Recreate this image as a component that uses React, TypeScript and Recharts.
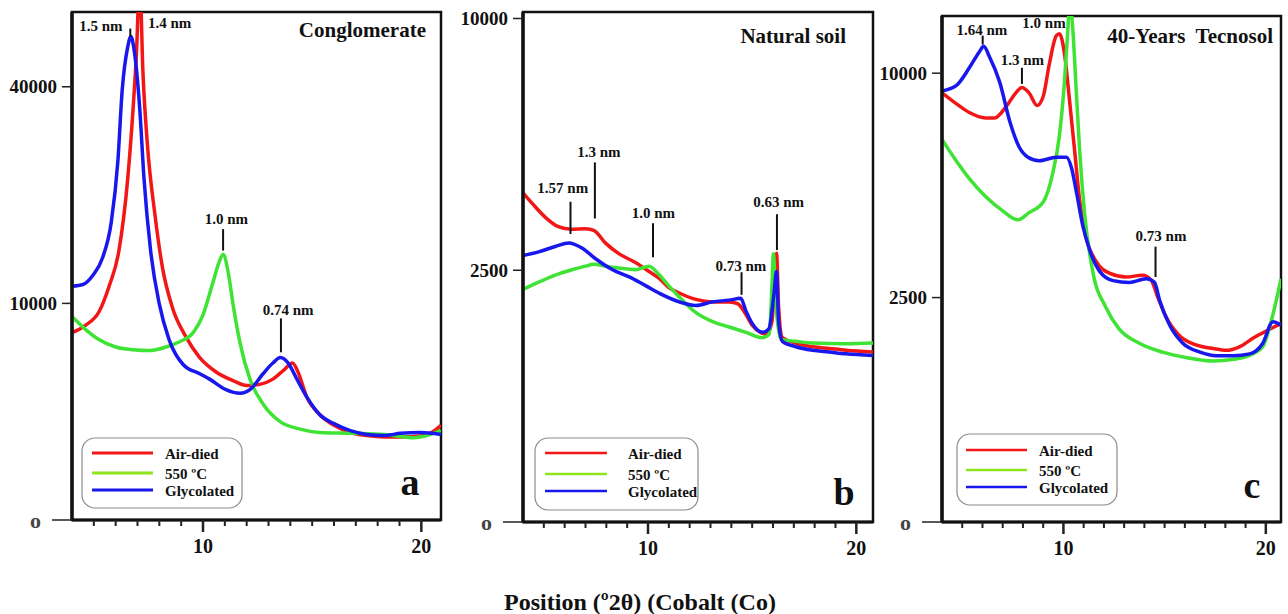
import React from 'react';
import { ComposedChart, Line, XAxis, YAxis, ReferenceLine, ReferenceDot, ReferenceArea } from 'recharts';

const SERIF = '"Liberation Serif", "Times New Roman", serif';
const RED = '#f21616';
const GREEN = '#3ee334';
const BLUE = '#1717ee';
const LEGEND_GREEN = '#8ee51e';

// ---------- data ----------
const seriesNames = ['Air-died', '550 ºC', 'Glycolated'];
const xTicks = [5, 6, 7, 8, 9, 10, 11, 12, 13, 14, 15, 16, 17, 18, 19, 20];
const xTickLabels = [10, 20];

// Panel a: Conglomerate
const aAirX = [4.0, 4.6, 5.25, 5.7, 6.15, 6.55, 6.8, 6.95, 7.1, 7.25, 7.45, 7.8, 8.15, 8.6, 9.2, 9.85, 10.6, 11.4, 12.0, 12.6, 13.2, 13.7, 14.1, 14.35, 14.75, 15.35, 16.0, 16.75, 17.5, 18.3, 19.05, 19.95, 20.6, 20.9];
const aAirY = [7480, 8060, 9290, 11650, 15470, 24750, 36200, 46200, 62000, 42600, 30200, 19840, 13490, 9610, 7200, 5620, 4670, 4130, 3860, 3920, 4230, 4790, 5250, 4670, 3230, 2360, 1910, 1630, 1520, 1470, 1470, 1500, 1700, 1910];
const aHeatX = [4.0, 4.6, 5.25, 6.0, 6.8, 7.55, 8.3, 8.95, 9.55, 10.0, 10.45, 10.75, 10.92, 11.15, 11.4, 11.7, 12.15, 12.75, 13.55, 14.45, 15.35, 16.75, 18.3, 19.65, 20.9];
const aHeatY = [8820, 7770, 6920, 6380, 6180, 6120, 6380, 6790, 7480, 8970, 12000, 14260, 15060, 13110, 9610, 6650, 4230, 2870, 2050, 1760, 1630, 1600, 1560, 1440, 1700];
const aGlyX = [4.0, 4.5, 4.95, 5.4, 5.8, 6.1, 6.3, 6.55, 6.7, 6.85, 7.1, 7.3, 7.6, 8.0, 8.45, 9.1, 9.85, 10.3, 11.05, 11.7, 12.15, 12.75, 13.2, 13.55, 13.9, 14.3, 14.75, 15.35, 16.0, 16.75, 17.5, 18.3, 19.05, 19.95, 20.9];
const aGlyY = [11650, 11820, 12740, 14660, 18930, 27410, 39410, 47650, 49830, 46940, 36200, 24750, 15470, 9930, 6920, 5140, 4560, 4230, 3620, 3420, 3620, 4560, 5250, 5620, 5250, 4230, 3230, 2360, 1980, 1700, 1560, 1520, 1600, 1630, 1560];

// Panel b: Natural soil
const bAirX = [4.0, 4.45, 5.1, 5.7, 6.3, 7.0, 7.4, 7.95, 8.6, 9.4, 10.05, 10.55, 11.0, 11.5, 12.3, 13.1, 13.9, 14.3, 14.7, 15.0, 15.4, 15.7, 15.95, 16.07, 16.17, 16.27, 16.45, 17.1, 17.9, 18.7, 19.5, 20.8];
const bAirY = [4275, 4000, 3650, 3440, 3380, 3395, 3356, 3073, 2841, 2655, 2475, 2335, 2167, 2069, 1954, 1911, 1911, 1880, 1699, 1528, 1419, 1392, 1584, 2200, 2850, 1818, 1340, 1263, 1212, 1188, 1164, 1140];
const bHeatX = [4.0, 4.75, 5.55, 6.35, 7.0, 7.4, 7.95, 8.6, 9.4, 10.05, 10.55, 11.0, 11.65, 12.3, 13.1, 13.9, 14.7, 15.5, 15.82, 15.95, 16.02, 16.14, 16.38, 17.1, 17.9, 19.5, 20.8];
const bHeatY = [2134, 2268, 2405, 2511, 2582, 2619, 2582, 2546, 2511, 2582, 2405, 2200, 1942, 1729, 1584, 1500, 1419, 1340, 1392, 2200, 2841, 1880, 1314, 1288, 1263, 1253, 1263];
const bGlyX = [4.0, 4.75, 5.55, 6.2, 6.85, 7.5, 8.3, 9.1, 9.9, 10.7, 11.5, 12.3, 13.1, 13.9, 14.45, 14.7, 15.0, 15.5, 15.8, 16.05, 16.17, 16.27, 16.45, 17.1, 17.9, 18.7, 19.5, 20.8];
const bGlyY = [2803, 2879, 2995, 3073, 2957, 2729, 2511, 2370, 2200, 2036, 1911, 1849, 1911, 1942, 1973, 1758, 1556, 1419, 1472, 2069, 2475, 1584, 1288, 1212, 1164, 1140, 1116, 1092];

// Panel c: 40-Years Tecnosol
const cAirX = [4.0, 4.7, 5.35, 6.15, 6.6, 7.15, 7.65, 7.95, 8.3, 8.7, 9.0, 9.3, 9.65, 9.8, 10.05, 10.3, 10.55, 10.8, 11.1, 11.6, 12.3, 13.1, 13.9, 14.35, 14.65, 15.1, 15.75, 16.55, 17.4, 18.05, 18.7, 19.4, 20.05, 20.75];
const cAirY = [9143, 8690, 8325, 8107, 8107, 8543, 9143, 9375, 9143, 8616, 8990, 10400, 11740, 11830, 10900, 8840, 6868, 5143, 4063, 3383, 3067, 2979, 3023, 2893, 2520, 2063, 1717, 1556, 1493, 1463, 1524, 1684, 1817, 1956];
const cHeatX = [4.0, 4.7, 5.35, 6.15, 7.0, 7.75, 8.3, 9.0, 9.45, 9.8, 10.05, 10.2, 10.33, 10.46, 10.63, 10.8, 11.05, 11.45, 12.1, 12.75, 13.75, 14.9, 16.05, 17.4, 18.4, 19.35, 19.85, 20.35, 20.75];
const cHeatY = [7269, 6478, 5852, 5258, 4806, 4534, 4751, 5085, 5974, 7405, 9606, 11740, 13500, 12090, 9296, 6868, 4696, 3111, 2285, 1851, 1587, 1432, 1343, 1286, 1314, 1403, 1524, 2136, 2936];
const cGlyX = [4.0, 4.7, 5.35, 5.85, 6.06, 6.35, 6.85, 7.35, 7.8, 8.25, 8.8, 9.65, 10.15, 10.4, 10.65, 10.95, 11.3, 11.8, 12.45, 13.25, 14.1, 14.5, 14.75, 15.25, 15.9, 16.75, 17.55, 18.4, 19.2, 19.85, 20.35, 20.75];
const cGlyY = [9220, 9450, 10240, 10980, 11230, 10730, 9606, 7966, 7000, 6606, 6478, 6606, 6606, 6224, 5373, 4374, 3667, 3111, 2893, 2850, 2936, 2850, 2441, 1921, 1587, 1432, 1373, 1373, 1403, 1587, 1991, 1921];

// peak annotations (label text, label anchor, marker segment) in data units
const aNoteText = ['1.5 nm', '1.4 nm', '1.0 nm', '0.74 nm'];
const aNoteX = [5.32, 8.47, 11.07, 13.9];
const aNoteY = [52070, 52670, 19380, 9448];
const aMarkX = [6.67, 10.92, 13.57];
const aMarkY1 = [49830, 15470, 5995];
const aMarkY2 = [51470, 18030, 8665];

const bNoteText = ['1.3 nm', '1.57 nm', '1.0 nm', '0.73 nm', '0.63 nm'];
const bNoteX = [7.64, 5.91, 10.26, 14.46, 16.27];
const bNoteY = [5411, 4397, 3763, 2582, 4046];
const bMarkX = [7.45, 6.28, 10.24, 14.49, 16.19];
const bMarkY1 = [3634, 3273, 2766, 2036, 2918];
const bMarkY2 = [5101, 4046, 3522, 2461, 3736];

const cNoteText = ['1.64 nm', '1.3 nm', '1.0 nm', '0.73 nm'];
const cNoteX = [5.97, 7.97, 9.04, 14.82];
const cNoteY = [12040, 10600, 12360, 4063];
const cMarkX = [6.01, 7.95, 14.55];
const cMarkY1 = [11320, 9527, 2979];
const cMarkY2 = [11745, 10240, 3764];

const zip = (xs: number[], ys: number[]) => xs.map((x, i) => ({ x, y: ys[i] }));

const panels = [
  {
    key: 'a', title: 'Conglomerate', letter: 'a',
    left: 0, width: 470, margin: { top: 12, right: 29, bottom: 54, left: 12 },
    xMax: 20.9, yMax: 55000, yTicks: [0, 10000, 40000],
    series: [zip(aAirX, aAirY), zip(aHeatX, aHeatY), zip(aGlyX, aGlyY)],
    notes: { text: aNoteText, x: aNoteX, y: aNoteY },
    marks: { x: aMarkX, y1: aMarkY1, y2: aMarkY2 },
  },
  {
    key: 'b', title: 'Natural soil', letter: 'b',
    left: 450, width: 440, margin: { top: 12, right: 17, bottom: 52, left: 13 },
    xMax: 20.8, yMax: 10260, yTicks: [0, 2500, 10000],
    series: [zip(bAirX, bAirY), zip(bHeatX, bHeatY), zip(bGlyX, bGlyY)],
    notes: { text: bNoteText, x: bNoteX, y: bNoteY },
    marks: { x: bMarkX, y1: bMarkY1, y2: bMarkY2 },
  },
  {
    key: 'c', title: '40-Years  Tecnosol', letter: 'c',
    left: 870, width: 418, margin: { top: 16, right: 7, bottom: 52, left: 12 },
    xMax: 20.75, yMax: 12710, yTicks: [0, 2500, 10000],
    series: [zip(cAirX, cAirY), zip(cHeatX, cHeatY), zip(cGlyX, cGlyY)],
    notes: { text: cNoteText, x: cNoteX, y: cNoteY },
    marks: { x: cMarkX, y1: cMarkY1, y2: cMarkY2 },
  },
];

const seriesColors = [RED, GREEN, BLUE];
const legendColors = [RED, LEGEND_GREEN, BLUE];

const YTick = (props: any) => {
  const { x, y, payload } = props;
  const zero = payload.value === 0;
  const len = zero ? 20 : 10;
  return (
    <g>
      <line x1={x - len} x2={x} y1={y} y2={y} stroke="#222" strokeWidth={1.5} />
      <text
        x={x - len - (zero ? 11 : 5)}
        y={y}
        dy="0.35em"
        textAnchor="end"
        fontFamily={SERIF}
        fontWeight={700}
        fontSize={zero ? 22 : 19}
        fill={zero ? '#444' : '#111'}
      >
        {zero ? 'o' : String(payload.value)}
      </text>
    </g>
  );
};

const XTick = (props: any) => {
  const { x, y, payload } = props;
  const major = xTickLabels.includes(payload.value);
  return (
    <g>
      <line x1={x} x2={x} y1={y} y2={y + (major ? 12 : 6)} stroke="#222" strokeWidth={major ? 2.5 : 2} />
      {major && (
        <text x={x} y={y + 33} textAnchor="middle" fontFamily={SERIF} fontWeight={700} fontSize={20} fill="#111">
          {payload.value}
        </text>
      )}
    </g>
  );
};

const legendBoxes = [
  { x: 82, y: 438, w: 160, h: 70, lx1: 92, lx2: 153, ly: [453, 473, 490], tx: 165, sw: 3 },
  { x: 535, y: 438, w: 163, h: 72, lx1: 545, lx2: 607, ly: [453, 474, 491], tx: 628, sw: 2.5 },
  { x: 957, y: 434, w: 160, h: 71, lx1: 966, lx2: 1027, ly: [450, 470, 487], tx: 1039, sw: 2.5 },
];
const titlePos = [
  { x: 426, y: 37 },
  { x: 846, y: 43 },
  { x: 1273, y: 43 },
];
const letterPos = [
  { x: 410, y: 495 },
  { x: 844, y: 505 },
  { x: 1252, y: 498 },
];

export default function App() {
  return (
    <div style={{ position: 'absolute', left: 0, top: 0, width: 1288, height: 614, background: '#fff', overflow: 'hidden' }}>
      {panels.map((p) => (
        <div key={p.key} style={{ position: 'absolute', left: p.left, top: 0, width: p.width, height: 614 }}>
          <ComposedChart width={p.width} height={614} margin={p.margin}>
            <XAxis
              type="number"
              dataKey="x"
              domain={[4, p.xMax]}
              allowDataOverflow
              ticks={xTicks}
              interval={0}
              tick={<XTick />}
              tickLine={false}
              tickSize={0}
              tickMargin={0}
              height={40}
              axisLine={{ stroke: '#111', strokeWidth: 3 }}
            />
            <YAxis
              type="number"
              scale="sqrt"
              domain={[0, p.yMax]}
              allowDataOverflow
              ticks={p.yTicks}
              interval={0}
              tick={<YTick />}
              tickLine={false}
              tickSize={0}
              tickMargin={0}
              width={60}
              axisLine={{ stroke: '#111', strokeWidth: 3.5 }}
            />
            <ReferenceArea
              x1={4}
              x2={p.xMax}
              y1={0}
              y2={p.yMax}
              ifOverflow="visible"
              fill="none"
              fillOpacity={0}
              stroke="#111"
              strokeWidth={2.5}
            />
            {p.series.map((data, i) => (
              <Line
                key={i}
                data={data}
                dataKey="y"
                name={seriesNames[i]}
                type="monotone"
                stroke={seriesColors[i]}
                strokeWidth={3.5}
                dot={false}
                activeDot={false}
                isAnimationActive={false}
              />
            ))}
            {p.marks.x.map((mx, i) => (
              <ReferenceLine
                key={'m' + i}
                segment={[{ x: mx, y: p.marks.y1[i] }, { x: mx, y: p.marks.y2[i] }]}
                stroke="#111"
                strokeWidth={2}
                ifOverflow="visible"
              />
            ))}
            {p.notes.text.map((t, i) => (
              <ReferenceDot
                key={'n' + i}
                x={p.notes.x[i]}
                y={p.notes.y[i]}
                r={0}
                fill="none"
                stroke="none"
                ifOverflow="visible"
                label={{
                  value: t,
                  position: 'center',
                  fill: '#111',
                  fontSize: 15,
                  fontWeight: 700,
                  fontFamily: SERIF,
                }}
              />
            ))}
          </ComposedChart>
        </div>
      ))}
      <svg
        width={1288}
        height={614}
        style={{ position: 'absolute', left: 0, top: 0, pointerEvents: 'none' }}
      >
        {panels.map((p, k) => (
          <g key={p.key}>
            <text
              x={titlePos[k].x}
              y={titlePos[k].y}
              textAnchor="end"
              fontFamily={SERIF}
              fontWeight={700}
              fontSize={21}
              fill="#111"
              style={{ whiteSpace: 'pre' }}
            >
              {p.title}
            </text>
            <text
              x={letterPos[k].x}
              y={letterPos[k].y}
              textAnchor="middle"
              fontFamily={SERIF}
              fontWeight={700}
              fontSize={38}
              fill="#111"
            >
              {p.letter}
            </text>
            <rect
              x={legendBoxes[k].x}
              y={legendBoxes[k].y}
              width={legendBoxes[k].w}
              height={legendBoxes[k].h}
              rx={13}
              ry={13}
              fill="#fff"
              stroke="#8c8c8c"
              strokeWidth={1.2}
            />
            {seriesNames.map((name, i) => (
              <g key={name}>
                <line
                  x1={legendBoxes[k].lx1}
                  x2={legendBoxes[k].lx2}
                  y1={legendBoxes[k].ly[i]}
                  y2={legendBoxes[k].ly[i]}
                  stroke={legendColors[i]}
                  strokeWidth={legendBoxes[k].sw}
                />
                <text
                  x={legendBoxes[k].tx}
                  y={legendBoxes[k].ly[i] + 6}
                  fontFamily={SERIF}
                  fontWeight={700}
                  fontSize={15}
                  fill="#111"
                >
                  {name}
                </text>
              </g>
            ))}
          </g>
        ))}
        <text x={640} y={610} textAnchor="middle" fontFamily={SERIF} fontWeight={700} fontSize={24} fill="#111">
          Position (º2θ) (Cobalt (Co)
        </text>
      </svg>
    </div>
  );
}
